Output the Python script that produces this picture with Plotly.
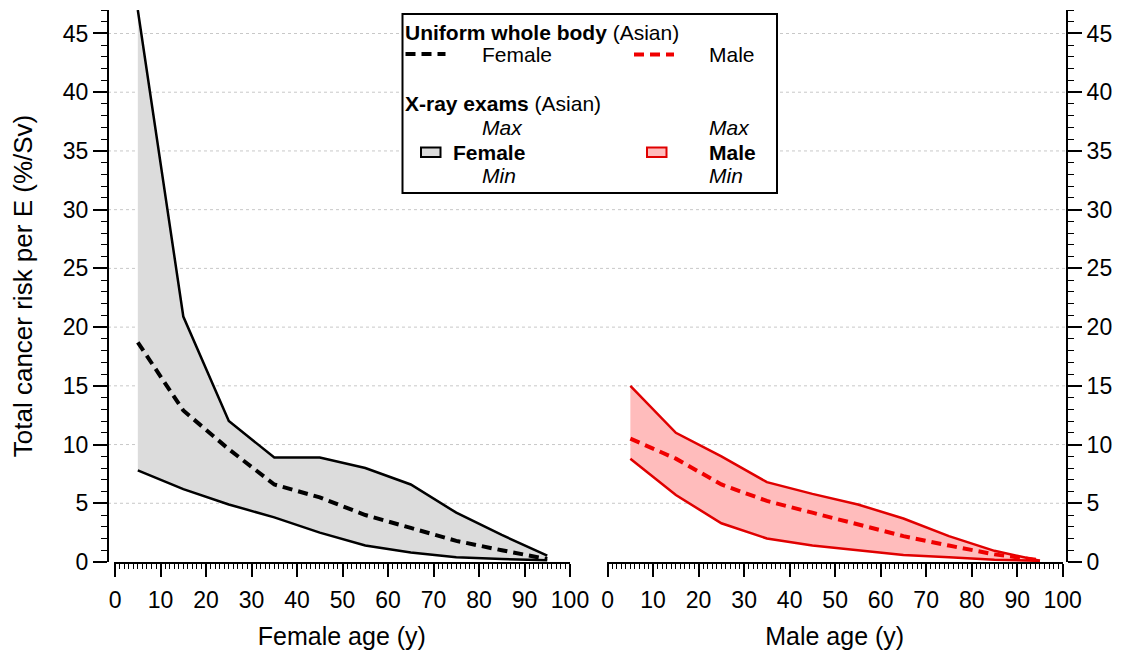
import plotly.graph_objects as go

# ---------------- data ----------------
ages = [5, 15, 25, 35, 45, 55, 65, 75, 85, 95]

female_xray_max = [47.0, 20.9, 12.0, 8.9, 8.9, 8.0, 6.6, 4.2, 2.3, 0.55]
female_xray_min = [7.8, 6.2, 4.9, 3.8, 2.5, 1.4, 0.8, 0.4, 0.25, 0.15]
female_uniform = [18.7, 12.9, 9.6, 6.6, 5.5, 4.0, 2.9, 1.8, 1.0, 0.25]

male_xray_max = [15.0, 11.0, 9.0, 6.8, 5.8, 4.9, 3.7, 2.2, 0.95, 0.1]
male_xray_min = [8.8, 5.7, 3.3, 2.0, 1.4, 1.0, 0.6, 0.4, 0.2, 0.1]
male_uniform = [10.5, 8.8, 6.6, 5.2, 4.2, 3.2, 2.2, 1.4, 0.65, 0.15]

y_ticks = [0, 5, 10, 15, 20, 25, 30, 35, 40, 45]
x_ticks = [0, 10, 20, 30, 40, 50, 60, 70, 80, 90, 100]

# ---------------- styling ----------------
FONT = "Arial, 'Liberation Sans', Arimo, sans-serif"
BLACK = "#000000"
RED_LINE = "#e00000"
RED_DASH = "#f00000"
GRAY_FILL = "#dcdcdc"
RED_FILL = "#ffbcbc"

W, H = 1127, 653
# reference frame used for the pixel helpers
L0, R0, T0, B0 = 107, 61, 10, 91
PW = W - L0 - R0
PH = H - T0 - B0
# actual margins (shifted so the picture lines up with the reference)
L, R, T, B = 100, 68, 2, 99


def px(xp):
    return (xp - L0) / PW


def py(yp):
    return (H - B0 - yp) / PH


fig = go.Figure()

# female panel
fig.add_trace(go.Scatter(x=ages, y=female_xray_min, mode="lines",
                         line=dict(color=BLACK, width=2.5),
                         xaxis="x", yaxis="y", showlegend=False))
fig.add_trace(go.Scatter(x=ages, y=female_xray_max, mode="lines",
                         line=dict(color=BLACK, width=2.5),
                         fill="tonexty", fillcolor=GRAY_FILL,
                         xaxis="x", yaxis="y", showlegend=False))
fig.add_trace(go.Scatter(x=ages, y=female_uniform, mode="lines",
                         line=dict(color=BLACK, width=4, dash="10px,6px"),
                         xaxis="x", yaxis="y", showlegend=False))

# male panel
fig.add_trace(go.Scatter(x=ages, y=male_xray_min, mode="lines",
                         line=dict(color=RED_LINE, width=2.5),
                         xaxis="x2", yaxis="y2", showlegend=False))
fig.add_trace(go.Scatter(x=ages, y=male_xray_max, mode="lines",
                         line=dict(color=RED_LINE, width=2.5),
                         fill="tonexty", fillcolor=RED_FILL,
                         xaxis="x2", yaxis="y2", showlegend=False))
fig.add_trace(go.Scatter(x=ages, y=male_uniform, mode="lines",
                         line=dict(color=RED_DASH, width=4, dash="10px,6px"),
                         xaxis="x2", yaxis="y2", showlegend=False))

tickfont = dict(family=FONT, size=23, color=BLACK)
titlefont = dict(family=FONT, size=25, color=BLACK)

xcommon = dict(
    range=[-0.3, 100], tickvals=x_ticks, ticks="outside", ticklen=13,
    tickwidth=1.5, tickcolor=BLACK, showline=True, linewidth=2,
    linecolor=BLACK, showgrid=False, zeroline=False, tickfont=tickfont,
    ticklabelstandoff=3,
    minor=dict(dtick=1, tick0=0, ticks="outside", ticklen=5, tickwidth=1,
               tickcolor=BLACK, showgrid=False),
    automargin=False, fixedrange=True,
)
ycommon = dict(
    range=[0, 47], tickvals=y_ticks, ticks="outside", ticklen=14,
    tickwidth=1.5, tickcolor=BLACK, showline=True, linewidth=2,
    linecolor=BLACK, showgrid=False, zeroline=False, tickfont=tickfont,
    minor=dict(dtick=1, tick0=0, ticks="outside", ticklen=6, tickwidth=1,
               tickcolor=BLACK, showgrid=False),
    automargin=False, fixedrange=True, domain=[0, 1],
)

fig.update_layout(
    width=W, height=H,
    margin=dict(l=L, r=R, t=T, b=B),
    paper_bgcolor="white", plot_bgcolor="white",
    font=dict(family=FONT, color=BLACK),
    xaxis=dict(xcommon, domain=[px(112.7), px(569)], anchor="y",
               title=dict(text="Female age (y)", font=titlefont, standoff=16)),
    xaxis2=dict(xcommon, domain=[px(605.7), px(1061.7)], anchor="y2",
                range=[-0.2, 100],
                title=dict(text="Male age (y)", font=titlefont, standoff=16)),
    yaxis=dict(ycommon, anchor="free", position=0, side="left",
               title=dict(text="Total cancer risk per E (%/Sv)",
                          font=dict(family=FONT, size=26, color=BLACK),
                          standoff=23)),
    yaxis2=dict(ycommon, anchor="free", position=1, side="right"),
    showlegend=False,
)

# dotted horizontal gridlines across the whole plotting width
shapes = []
for v in y_ticks[1:]:
    shapes.append(dict(type="line", xref="paper", yref="y", x0=0, x1=1,
                       y0=v, y1=v, layer="below",
                       line=dict(color="#c8c8c8", width=1, dash="dot")))

# legend box
shapes.append(dict(type="rect", xref="paper", yref="paper",
                   x0=px(401.5), x1=px(776), y0=py(193), y1=py(14),
                   fillcolor="white", line=dict(color=BLACK, width=2),
                   layer="above"))
# legend line samples
shapes.append(dict(type="line", xref="paper", yref="paper",
                   x0=px(404.5), x1=px(444.5), y0=py(54), y1=py(54),
                   line=dict(color=BLACK, width=4, dash="10px,6px"),
                   layer="above"))
shapes.append(dict(type="line", xref="paper", yref="paper",
                   x0=px(633), x1=px(673), y0=py(54.5), y1=py(54.5),
                   line=dict(color=RED_DASH, width=4, dash="10px,6px"),
                   layer="above"))
# legend fill swatches
shapes.append(dict(type="rect", xref="paper", yref="paper",
                   x0=px(420), x1=px(439.5), y0=py(157), y1=py(147.5),
                   fillcolor=GRAY_FILL, line=dict(color=BLACK, width=2),
                   layer="above"))
shapes.append(dict(type="rect", xref="paper", yref="paper",
                   x0=px(646), x1=px(665.5), y0=py(157), y1=py(147.5),
                   fillcolor=RED_FILL, line=dict(color=RED_LINE, width=2),
                   layer="above"))

fig.update_layout(shapes=shapes)

LF = 21


def txt(x, y, text, size=LF):
    return dict(xref="paper", yref="paper", x=px(x), y=py(y), text=text,
                showarrow=False, xanchor="left", yanchor="middle",
                font=dict(family=FONT, size=size, color=BLACK))


annotations = [
    txt(402, 32.5, "<b>Uniform whole body</b> (Asian)"),
    txt(479, 54.5, "Female"),
    txt(705.5, 54.5, "Male"),
    txt(402, 103.5, "<b>X-ray exams</b> (Asian)"),
    txt(479, 127, "<i>Max</i>"),
    txt(705.5, 127, "<i>Max</i>"),
    txt(450, 152, "<b>Female</b>"),
    txt(705.5, 152, "<b>Male</b>"),
    txt(479, 175.5, "<i>Min</i>"),
    txt(705.5, 175.5, "<i>Min</i>"),
]
fig.update_layout(annotations=annotations)

fig.write_html("out.html")
